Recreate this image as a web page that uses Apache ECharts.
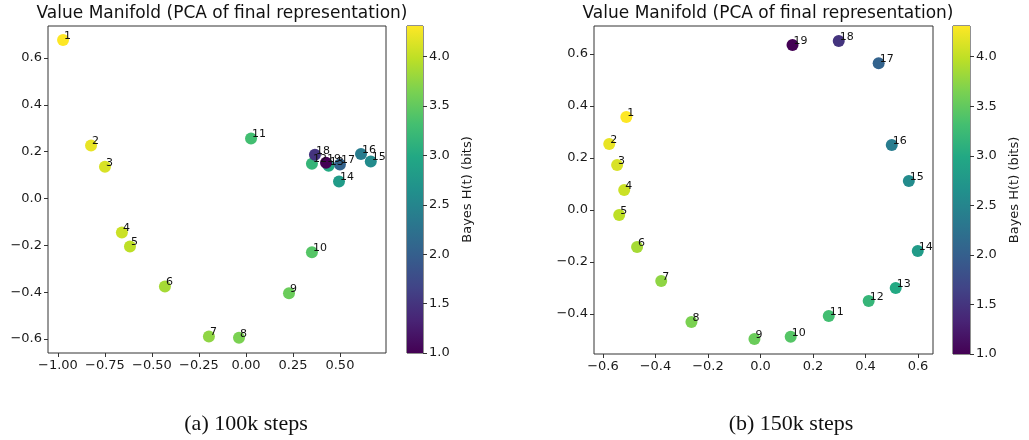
<!DOCTYPE html>
<html>
<head>
<meta charset="utf-8">
<script src="https://cdn.jsdelivr.net/npm/echarts@6/dist/echarts.min.js"></script>
<style>
  html, body { margin: 0; padding: 0; background: #fff; }
  #chart { width: 1029px; height: 440px; }
</style>
</head>
<body>
<div id="chart"></div>
<script>
// step labels and Bayes entropy per step (same for both panels)
const steps = [1, 2, 3, 4, 5, 6, 7, 8, 9, 10, 11, 12, 13, 14, 15, 16, 17, 18, 19];
const bayesH = [4.31, 4.2, 4.12, 4.05, 3.98, 3.86, 3.75, 3.65, 3.55, 3.42, 3.3, 3.18, 3.0, 2.8, 2.58, 2.38, 2.05, 1.5, 1.0];

// (a) 100k steps
const xA = [-0.973, -0.824, -0.75, -0.66, -0.617, -0.431, -0.197, -0.037, 0.229, 0.351, 0.027, 0.351, 0.44, 0.495, 0.664, 0.612, 0.5, 0.367, 0.426];
const yA = [0.677, 0.226, 0.136, -0.145, -0.205, -0.376, -0.59, -0.595, -0.405, -0.23, 0.256, 0.149, 0.14, 0.073, 0.158, 0.19, 0.145, 0.187, 0.153];

// (b) 150k steps
const xB = [-0.511, -0.576, -0.546, -0.519, -0.538, -0.47, -0.378, -0.263, -0.023, 0.115, 0.26, 0.412, 0.515, 0.599, 0.565, 0.5, 0.45, 0.298, 0.122];
const yB = [0.358, 0.254, 0.173, 0.077, -0.019, -0.142, -0.273, -0.431, -0.496, -0.488, -0.408, -0.35, -0.3, -0.158, 0.112, 0.25, 0.565, 0.65, 0.635];

const xTicksA = [-1, -0.75, -0.5, -0.25, 0, 0.25, 0.5];
const yTicksA = [-0.6, -0.4, -0.2, 0, 0.2, 0.4, 0.6];
const xTicksB = [-0.6, -0.4, -0.2, 0, 0.2, 0.4, 0.6];
const yTicksB = [-0.4, -0.2, 0, 0.2, 0.4, 0.6];
const cbTicks = [1, 1.5, 2, 2.5, 3, 3.5, 4];
const hMin = 1.0, hMax = 4.31;

const viridis = ['#440154', '#482475', '#414487', '#355f8d', '#2a788e', '#21918c', '#22a884', '#44bf70', '#7ad151', '#bddf26', '#fde725'];

const FONT = 'DejaVu Sans';
const fmt = (d) => (v) => Number(v).toFixed(d).replace('-', '\u2212');

function valueAxis(gridIndex, min, max, ticks, dec, extra) {
  return Object.assign({
    type: 'value',
    gridIndex: gridIndex,
    min: min,
    max: max,
    axisLine: { show: false, onZero: false },
    splitLine: { show: false },
    axisTick: { show: true, length: 4, customValues: ticks, lineStyle: { color: '#333' } },
    axisLabel: { customValues: ticks, formatter: fmt(dec), color: '#1a1a1a', fontSize: 13, fontFamily: FONT, margin: 6 }
  }, extra || {});
}

function points(xs, ys) {
  return steps.map((s, i) => [xs[i], ys[i], bayesH[i], s]);
}

function scatter(idx, data) {
  return {
    type: 'scatter',
    xAxisIndex: idx,
    yAxisIndex: idx,
    data: data,
    symbolSize: 12,
    itemStyle: { opacity: 1 },
    label: {
      show: true,
      formatter: (p) => String(p.data[3]),
      position: [7, 2],
      align: 'left',
      verticalAlign: 'middle',
      color: '#111',
      fontSize: 11,
      fontFamily: FONT
    }
  };
}

// colorbar: a stacked bar with a viridis gradient on its own small grid
const cbGradient = new echarts.graphic.LinearGradient(0, 0, 0, 1,
  viridis.slice().reverse().map((c, i) => ({ offset: i / (viridis.length - 1), color: c })));

function colorbar(idx) {
  return [
    { type: 'bar', xAxisIndex: idx, yAxisIndex: idx, stack: 'cb' + idx, barWidth: '100%', silent: true,
      data: [hMin], itemStyle: { color: 'rgba(0,0,0,0)' } },
    { type: 'bar', xAxisIndex: idx, yAxisIndex: idx, stack: 'cb' + idx, barWidth: '100%', silent: true,
      data: [hMax - hMin], itemStyle: { color: cbGradient } }
  ];
}

const cbAxisExtra = {
  position: 'right',
  name: 'Bayes H(t) (bits)',
  nameLocation: 'middle',
  nameRotate: 90,
  nameGap: 38,
  nameTextStyle: { color: '#1a1a1a', fontSize: 13, fontFamily: FONT }
};

const titleStyle = { fontFamily: FONT, fontSize: 17, fontWeight: 'normal', color: '#111' };
const captionStyle = { fontFamily: 'Liberation Serif', fontSize: 22, fontWeight: 'normal', color: '#111' };

const chart = echarts.init(document.getElementById('chart'));

chart.setOption({
  animation: false,
  backgroundColor: '#fff',
  title: [
    { text: 'Value Manifold (PCA of final representation)', left: 217, top: 0, textAlign: 'center', textStyle: titleStyle },
    { text: 'Value Manifold (PCA of final representation)', left: 763, top: 0, textAlign: 'center', textStyle: titleStyle },
    { text: '(a) 100k steps', left: 241, top: 408, textAlign: 'center', textStyle: captionStyle },
    { text: '(b) 150k steps', left: 786, top: 408, textAlign: 'center', textStyle: captionStyle }
  ],
  grid: [
    { left: 48, top: 26, width: 338, height: 327, show: true, borderColor: '#333', borderWidth: 1 },
    { left: 407, top: 26, width: 16, height: 327, show: true, borderColor: '#222', borderWidth: 1 },
    { left: 594, top: 26, width: 339, height: 328, show: true, borderColor: '#333', borderWidth: 1 },
    { left: 953, top: 26, width: 17, height: 328, show: true, borderColor: '#222', borderWidth: 1 }
  ],
  xAxis: [
    valueAxis(0, -1.053, 0.745, xTicksA, 2),
    { type: 'category', gridIndex: 1, data: ['H'], show: false },
    valueAxis(2, -0.634, 0.657, xTicksB, 1),
    { type: 'category', gridIndex: 3, data: ['H'], show: false }
  ],
  yAxis: [
    valueAxis(0, -0.66, 0.737, yTicksA, 1),
    valueAxis(1, hMin, hMax, cbTicks, 1, cbAxisExtra),
    valueAxis(2, -0.554, 0.708, yTicksB, 1),
    valueAxis(3, hMin, hMax, cbTicks, 1, cbAxisExtra)
  ],
  visualMap: {
    type: 'continuous',
    show: false,
    dimension: 2,
    min: hMin,
    max: hMax,
    seriesIndex: [0, 1],
    inRange: { color: viridis }
  },
  series: [
    scatter(0, points(xA, yA)),
    scatter(2, points(xB, yB))
  ].concat(colorbar(1), colorbar(3))
});
</script>
</body>
</html>
